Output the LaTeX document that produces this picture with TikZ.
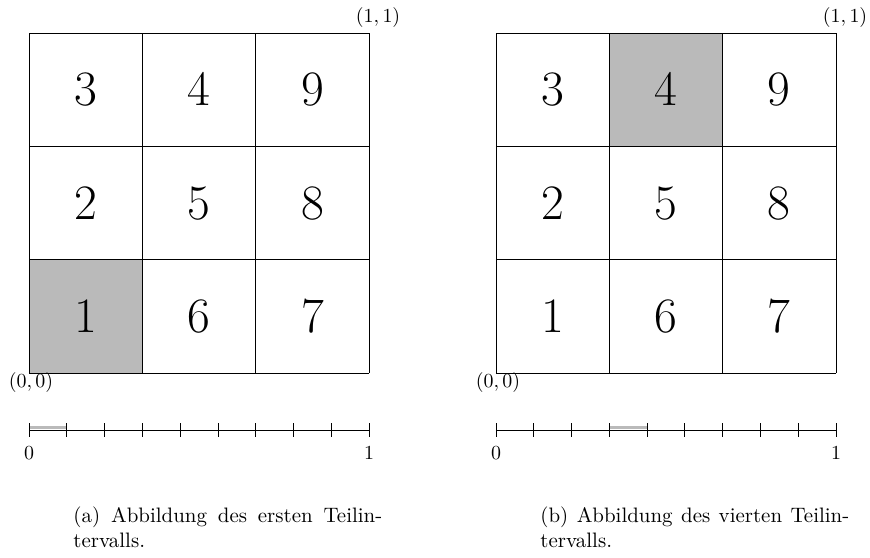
\documentclass[tikz,border=0pt]{standalone}
\usetikzlibrary{positioning}
\definecolor{cellgray}{gray}{0.73}
\begin{document}
\begin{tikzpicture}[line join=round,
	digit/.style={font=\fontsize{29}{35}\selectfont},
	caption/.style={anchor=north west, inner sep=0pt, text width=5.45cm, align=justify, font=\fontsize{10.5}{12.5}\selectfont},
	tick/.style={thin}]
	\useasboundingbox (-0.512,-3.247) rectangle (14.84,6.583);
	\foreach \sx/\hx/\hy/\hi/\lab/\txt in {0/0/0/0/a/ersten, 8.24/2/4/3/b/vierten}{
		\begin{scope}[xshift=\sx cm]
			\fill[cellgray] (\hx,\hy) rectangle ++(2,2);
			\draw (0,0) grid[step=2] (6,6);
			\foreach \n/\c/\r in {1/0/0, 2/0/1, 3/0/2, 4/1/2, 5/1/1, 6/1/0, 7/2/0, 8/2/1, 9/2/2}
				\node[digit] (d\lab\n) at (2*\c+1, 2*\r+1) {$\n$};
			\node (o\lab) at (0.035,-0.16) {$(0,0)$};
			\node (e\lab) at (6.16,6.27) {$(1,1)$};
			% Einheitsintervall
			\draw[cellgray, line width=1.5pt] ({\hi*6/9},-0.962) -- ({(\hi+1)*6/9},-0.962);
			\draw (0,-1.006) -- (6,-1.006);
			\foreach \k in {0,...,9}
				\draw[tick] ({\k*6/9},-0.888) -- ({\k*6/9},-1.124);
			\node (n\lab) at (0,-1.41) {$0$};
			\node (u\lab) at (6,-1.41) {$1$};
			\node[caption] (c\lab) at (0.777,-2.36) {(\lab) Abbildung des \txt{} Teilin\-tervalls.};
		\end{scope}
	}
\end{tikzpicture}
\end{document}
